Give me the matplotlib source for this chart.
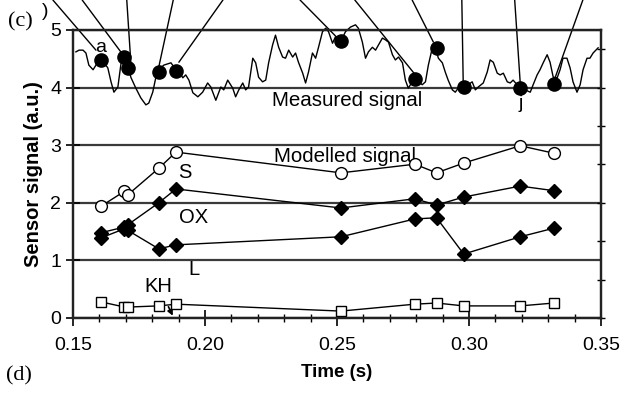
import numpy as np
import matplotlib
matplotlib.use("Agg")
import matplotlib.pyplot as plt

plt.rcParams['font.family'] = ['Liberation Sans', 'DejaVu Sans']

# measured sensor signal (trace)
sig_t = [0.1511, 0.1523, 0.1538, 0.1549, 0.1560, 0.1576, 0.1587, 0.1598, 0.1617, 0.1632,
         0.1644, 0.1655, 0.1670, 0.1681, 0.1689, 0.1700, 0.1712, 0.1719, 0.1738, 0.1757,
         0.1776, 0.1787, 0.1802, 0.1814, 0.1825, 0.1844, 0.1871, 0.1882, 0.1897, 0.1916,
         0.1927, 0.1939, 0.1954, 0.1973, 0.1991, 0.2010, 0.2022, 0.2041, 0.2060, 0.2071,
         0.2086, 0.2105, 0.2116, 0.2128, 0.2143, 0.2154, 0.2165, 0.2181, 0.2192, 0.2203,
         0.2218, 0.2230, 0.2241, 0.2256, 0.2267, 0.2279, 0.2294, 0.2305, 0.2317, 0.2332,
         0.2343, 0.2354, 0.2370, 0.2381, 0.2392, 0.2407, 0.2419, 0.2430, 0.2445, 0.2457,
         0.2468, 0.2483, 0.2494, 0.2513, 0.2532, 0.2551, 0.2570, 0.2581, 0.2596, 0.2608,
         0.2619, 0.2634, 0.2646, 0.2657, 0.2672, 0.2683, 0.2695, 0.2710, 0.2721, 0.2733,
         0.2748, 0.2759, 0.2770, 0.2785, 0.2797, 0.2808, 0.2823, 0.2835, 0.2846, 0.2861,
         0.2872, 0.2884, 0.2899, 0.2910, 0.2921, 0.2937, 0.2948, 0.2959, 0.2978, 0.2997,
         0.3012, 0.3024, 0.3035, 0.3054, 0.3069, 0.3080, 0.3092, 0.3107, 0.3118, 0.3130,
         0.3145, 0.3156, 0.3167, 0.3182, 0.3194, 0.3213, 0.3232, 0.3243, 0.3258, 0.3269,
         0.3281, 0.3296, 0.3307, 0.3319, 0.3334, 0.3345, 0.3356, 0.3371, 0.3383, 0.3394,
         0.3409, 0.3421, 0.3432, 0.3447, 0.3458, 0.3470, 0.3489]
sig_v = [4.62, 4.65, 4.65, 4.60, 4.39, 4.31, 4.39, 4.48, 4.44, 4.34,
         4.10, 3.92, 4.01, 4.39, 4.57, 4.53, 4.34, 4.18, 3.99, 3.82,
         3.70, 3.73, 3.92, 4.18, 4.31, 4.39, 4.43, 4.36, 4.31, 4.17,
         4.22, 4.13, 3.91, 3.84, 3.92, 4.08, 4.01, 3.78, 4.01, 3.96,
         4.13, 3.99, 3.84, 3.96, 4.08, 3.96, 4.01, 4.51, 4.43, 4.18,
         4.10, 4.13, 4.43, 4.74, 4.91, 4.70, 4.53, 4.51, 4.65, 4.53,
         4.60, 4.44, 4.25, 4.08, 4.27, 4.60, 4.51, 4.70, 4.97, 5.03,
         4.97, 4.77, 4.88, 4.79, 4.97, 5.05, 5.09, 5.03, 4.79, 4.51,
         4.62, 4.70, 4.65, 4.74, 4.86, 4.83, 4.79, 4.57, 4.48, 4.53,
         4.43, 4.13, 3.99, 4.10, 4.17, 4.10, 4.05, 4.10, 4.39, 4.69,
         4.70, 4.51, 4.43, 4.27, 4.13, 3.96, 3.92, 3.99, 4.01, 4.05,
         4.10, 3.96, 4.01, 4.08, 4.27, 4.48, 4.44, 4.25, 4.22, 4.25,
         4.10, 4.08, 4.13, 4.05, 3.99, 3.96, 3.92, 4.05, 4.22, 4.31,
         4.43, 4.57, 4.44, 4.18, 4.17, 4.31, 4.51, 4.51, 4.34, 4.10,
         3.92, 4.05, 4.31, 4.51, 4.51, 4.60, 4.69]

# sampled instants and modelled components
t_pts = [0.1606, 0.1695, 0.1708, 0.1825, 0.1890, 0.2515, 0.2795, 0.2877, 0.2980, 0.3194, 0.3322]
meas_pts = [4.48, 4.53, 4.34, 4.27, 4.29, 4.81, 4.15, 4.69, 4.01, 3.99, 4.06]
S = [1.94, 2.20, 2.14, 2.60, 2.88, 2.52, 2.67, 2.52, 2.69, 2.99, 2.86]
OX_hi = [1.48, 1.58, 1.62, 2.00, 2.24, 1.91, 2.07, 1.96, 2.10, 2.29, 2.21]
OX_lo = [1.39, 1.55, 1.52, 1.20, 1.27, 1.41, 1.72, 1.74, 1.11, 1.41, 1.56]
L = [0.28, 0.19, 0.19, 0.21, 0.24, 0.12, 0.24, 0.26, 0.21, 0.21, 0.26]

# leader lines: top-of-figure x (fraction) -> end point in data
leader_top = [0.083, 0.129, 0.199, 0.272, 0.350, 0.471, 0.557, 0.647, 0.725, 0.808, 0.915]
leader_end = [(0.1587, 4.65), (0.1681, 4.62), (0.1719, 4.44), (0.1825, 4.36), (0.1901, 4.44),
              (0.2502, 4.86), (0.2797, 4.22), (0.2865, 4.79), (0.2978, 4.10), (0.3194, 4.08),
              (0.3326, 4.17)]

fig = plt.figure(figsize=(6.37, 3.94), dpi=100)
ax = fig.add_axes([0.1146, 0.1929, 0.8289, 0.7310])

for yv in range(0, 6):
    ax.axhline(yv, color='#3a3a3a', lw=1.6, zorder=1)

ax.plot(sig_t, sig_v, color='black', lw=1.0, clip_on=False, zorder=3)
ax.plot(t_pts, meas_pts, 'o', color='black', ms=9.5, zorder=4)
ax.plot(t_pts, S, '-o', color='black', mfc='white', mec='black', lw=1, ms=8.5, mew=1, zorder=4)
ax.plot(t_pts, OX_hi, '-D', color='black', lw=1, ms=7, zorder=4)
ax.plot(t_pts, OX_lo, '-D', color='black', lw=1, ms=7, zorder=4)
ax.plot(t_pts, L, '-s', color='black', mfc='white', mec='black', lw=1, ms=7.5, mew=1, zorder=4)

for fx, (ex, ey) in zip(leader_top, leader_end):
    ax.annotate('', xy=(ex, ey), xycoords='data', xytext=(fx, 1.0), textcoords='figure fraction',
                arrowprops=dict(arrowstyle='-', color='black', lw=1, shrinkA=0, shrinkB=0),
                annotation_clip=False)

ax.set_xlim(0.15, 0.35)
ax.set_ylim(0, 5)
ax.set_xticks(np.arange(0.15, 0.351, 0.05))
ax.set_xticklabels(['0.15', '0.20', '0.25', '0.30', '0.35'])
ax.set_xticks(np.arange(0.15, 0.351, 0.01), minor=True)
ax.set_yticks(range(0, 6))
ax.tick_params(axis='both', which='major', labelsize=14, direction='inout', length=12, width=1.2)
ax.tick_params(axis='x', which='minor', direction='inout', length=6, width=1)
ax.tick_params(axis='y', which='major', direction='inout', length=10)
ax.tick_params(axis='x', pad=8)

ax2 = ax.twinx()
ax2.set_ylim(0, 5)
ax2.set_yticks(np.arange(0, 5.01, 2 / 3))
ax2.set_yticklabels([])
ax2.tick_params(axis='y', direction='inout', length=6, width=1)

for a in (ax, ax2):
    for sp in a.spines.values():
        sp.set_linewidth(1.6)
        sp.set_color('#222222')

ax.set_xlabel('Time (s)', fontsize=13.5, fontweight='bold', labelpad=7)
ax.set_ylabel('Sensor signal (a.u.)', fontsize=14.5, fontweight='bold', labelpad=5)

ax.text(0.1606, 4.70, 'a', fontsize=14, ha='center', va='center')
ax.text(0.3194, 3.72, 'j', fontsize=14, ha='center', va='center')
ax.text(0.2540, 3.78, 'Measured signal', fontsize=14.8, ha='center', va='center')
ax.text(0.2532, 2.80, 'Modelled signal', fontsize=14.8, ha='center', va='center')
ax.text(0.1923, 2.53, 'S', fontsize=14.5, ha='center', va='center')
ax.text(0.1957, 1.74, 'OX', fontsize=14.5, ha='center', va='center')
ax.text(0.1957, 0.84, 'L', fontsize=14.5, ha='center', va='center')
ax.annotate('KH', xy=(0.1878, 0.04), xytext=(0.1825, 0.54), fontsize=14.5, ha='center', va='center',
            arrowprops=dict(arrowstyle='-|>', color='black', lw=1.2, mutation_scale=8, shrinkA=6, shrinkB=0))

fig.text(0.032, 0.945, '(c)', fontsize=16, family='Liberation Serif', ha='center', va='center')
fig.text(0.071, 0.97, ')', fontsize=14, ha='center', va='center')
fig.text(0.030, 0.047, '(d)', fontsize=16, family='Liberation Serif', ha='center', va='center')

fig.savefig('out.png', dpi=100, facecolor='white')
